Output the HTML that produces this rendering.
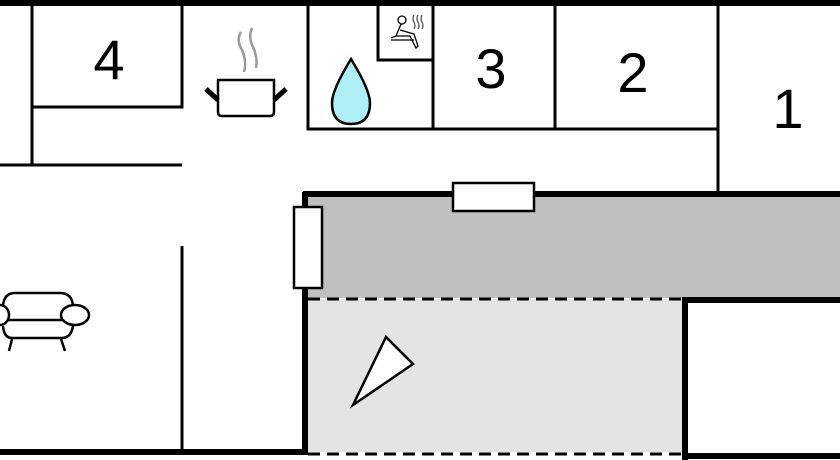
<!DOCTYPE html>
<html><head><style>body{margin:0;background:#fff}svg{display:block}</style></head><body>
<svg width="840" height="460" viewBox="0 0 840 460" xmlns="http://www.w3.org/2000/svg" font-family="Liberation Sans, sans-serif">
<rect x="308" y="196" width="532" height="102" fill="#c0c0c0"/>
<rect x="308" y="299" width="376" height="153" fill="#e4e4e4"/>
<g stroke="#000" fill="none">
<line x1="0" y1="3" x2="840" y2="3" stroke-width="6"/>
<g stroke-width="3">
<line x1="32" y1="5" x2="32" y2="165"/>
<polyline points="32,107 182,107 182,5"/>
<line x1="0" y1="165" x2="182" y2="165"/>
<line x1="182" y1="246" x2="182" y2="450"/>
<polyline points="308,5 308,129 718,129"/>
<polyline points="378,5 378,60 433,60"/>
<line x1="433" y1="5" x2="433" y2="129"/>
<line x1="555" y1="5" x2="555" y2="129"/>
<line x1="718" y1="5" x2="718" y2="193"/>
</g>
<line x1="0" y1="452" x2="308" y2="452" stroke-width="6"/>
<line x1="303" y1="194" x2="840" y2="194" stroke-width="6"/>
<line x1="305" y1="192" x2="305" y2="455" stroke-width="6"/>
<polyline points="685,460 685,300 840,300" stroke-width="6"/>
<line x1="685" y1="456" x2="840" y2="456" stroke-width="6"/>
<line x1="308" y1="299" x2="683" y2="299" stroke-width="3" stroke-dasharray="12,7"/>
<line x1="308" y1="454" x2="683" y2="454" stroke-width="3" stroke-dasharray="12,7"/>
<rect x="453" y="183" width="81" height="28" fill="#fff" stroke-width="2.5"/>
<rect x="294" y="207" width="28" height="81" fill="#fff" stroke-width="2.5"/>
<polygon points="386,337 413,364 353,405" fill="#fff" stroke-width="2.5"/>
<path d="M218,80 H274 V112 Q274,116 270,116 H222 Q218,116 218,112 Z" fill="#fff" stroke-width="2.5"/>
<line x1="206" y1="89" x2="218" y2="100" stroke-width="5"/>
<line x1="286" y1="89" x2="274" y2="100" stroke-width="5"/>
<path d="M241,32 Q236,40 242,50 Q247,62 244,72 M252,28 Q248,37 253,47 Q258,58 256,68" stroke="#999" stroke-width="2.5"/>
<path d="M351,59 Q332,90 332,103 Q332,124 351,124 Q370,124 370,103 Q370,90 351,59 Z" fill="#aeeef5" stroke-width="2.5"/>
<g stroke-width="1.3">
<circle cx="402" cy="20" r="4"/>
<path d="M401,24 L396,36 L391,38 M396,36 L410,36 L416,48 L418,46 L414,34 L400,30 M391,40 H414"/>
<path d="M414,15 q-2,4 0,7 q2,4 0,7 M418,15 q-2,4 0,7 q2,4 0,7 M422,15 q-2,4 0,7 q2,4 0,7" stroke="#555"/>
</g>
<g stroke-width="2.5">
<path d="M3,306 Q4,293 15,293 H60 Q72,293 73,306"/>
<line x1="8" y1="320" x2="62" y2="320"/>
<path d="M3,326 Q4,338 12,338 H62 Q71,338 73,326"/>
<ellipse cx="75" cy="315" rx="14" ry="10" fill="#fff"/>
<ellipse cx="0" cy="315" rx="9" ry="10"/>
<line x1="12" y1="339" x2="9" y2="351"/>
<line x1="61" y1="339" x2="65" y2="351"/>
</g>
</g>
<g font-size="56" text-anchor="middle" fill="#000">
<text x="109" y="79">4</text>
<text x="491" y="88">3</text>
<text x="633" y="92">2</text>
<text x="788" y="128">1</text>
</g>
</svg>
</body></html>
